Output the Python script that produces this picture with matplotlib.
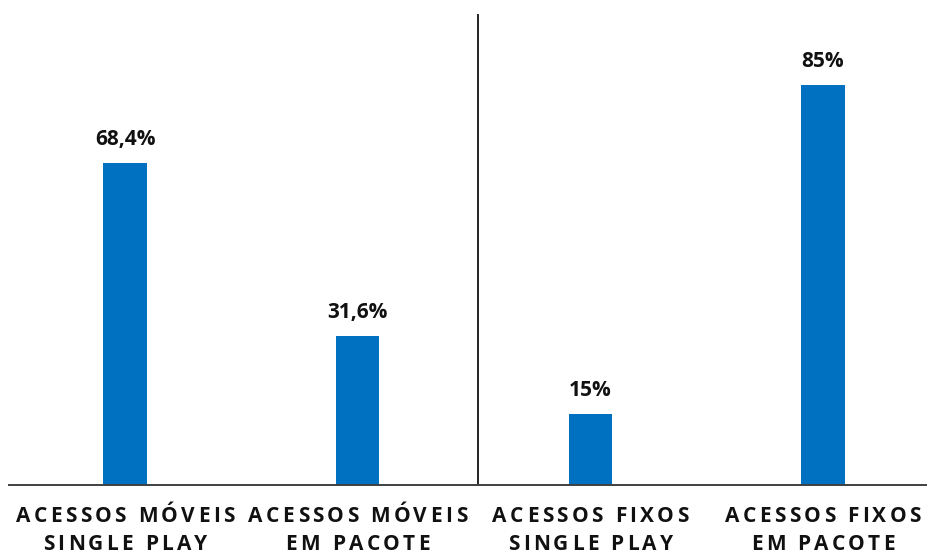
import matplotlib
matplotlib.use("Agg")
import matplotlib.pyplot as plt
from matplotlib.font_manager import FontProperties, findfont, get_font

# dados
categorias = [
    ["ACESSOS MÓVEIS", "SINGLE PLAY"],
    ["ACESSOS MÓVEIS", "EM PACOTE"],
    ["ACESSOS FIXOS", "SINGLE PLAY"],
    ["ACESSOS FIXOS", "EM PACOTE"],
]
valores = [68.4, 31.6, 15, 85]
rotulos = ["68,4%", "31,6%", "15%", "85%"]

AZUL = "#0070C0"
W, H, DPI = 927, 551, 100

fig = plt.figure(figsize=(W / DPI, H / DPI), dpi=DPI)
ax = fig.add_axes([9 / W, 66 / H, 918 / W, 471 / H])

pos = list(range(len(valores)))
ax.bar(pos, valores, width=0.185, color=AZUL, zorder=2)
ax.set_xlim(-0.4986, 3.447)
ax.set_ylim(0, 100)

for x, v, r in zip(pos, valores, rotulos):
    ax.annotate(r, (x, v), xytext=(0, 13), textcoords="offset points",
                ha="center", va="baseline", fontsize=15, fontweight="bold",
                family="Open Sans", color="#111111")

# divisória entre móveis e fixos
ax.axvline(1.517, ymin=0, ymax=1, color="black", lw=1.2)

for s in ["top", "left", "right"]:
    ax.spines[s].set_visible(False)
ax.spines["bottom"].set_color("#404040")
ax.spines["bottom"].set_linewidth(1.4)
ax.set_xticks([])
ax.set_yticks([])

# rótulos com espaçamento entre letras
TAM = 15
prop = FontProperties(family="Open Sans", weight="bold", size=TAM)


def avanco(ch):
    fonte = get_font(findfont(prop))
    fonte.set_size(TAM, DPI)
    g = fonte.load_char(ord(ch))
    return g.linearHoriAdvance / 65536


def texto_espacado(cx, y, s, track=3.3):
    larg = [avanco(c) for c in s]
    total = sum(larg) + track * (len(s) - 1)
    xp = cx - total / 2
    for c, w in zip(s, larg):
        if c != " ":
            fig.text(xp / W, y, c, fontproperties=prop, ha="left",
                     va="baseline", color="#111111")
        xp += w + track


fig.canvas.draw()
for x, linhas in zip(pos, categorias):
    cx = ax.transData.transform((x, 0))[0]
    texto_espacado(cx, (H - 522) / H, linhas[0])
    texto_espacado(cx, (H - 550) / H, linhas[1])

fig.savefig("out.png", dpi=DPI, facecolor="white")
